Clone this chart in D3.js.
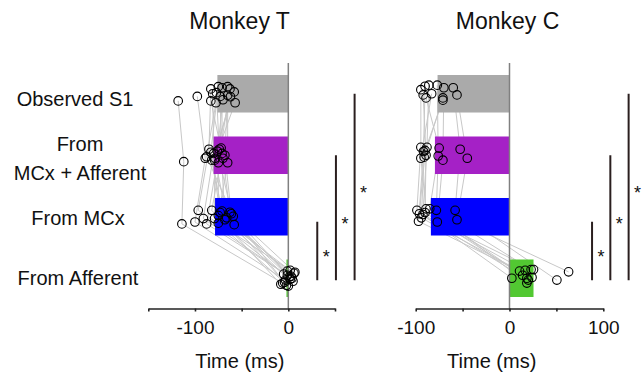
<!DOCTYPE html>
<html>
<head>
<meta charset="utf-8">
<script src="https://cdn.jsdelivr.net/npm/d3@7/dist/d3.min.js"></script>
<style>
  body { margin: 0; background: #fff; }
  svg { display: block; }
  text { font-family: "Liberation Sans", Arial, sans-serif; fill: #111; }
</style>
</head>
<body>
<svg id="chart" width="642" height="373"></svg>
<script>
// Conditions, top to bottom
const conditions = ["Observed S1", "From MCx + Afferent", "From MCx", "From Afferent"];
const rowLabels = [["Observed S1"], ["From", "MCx + Afferent"], ["From MCx"], ["From Afferent"]];
const barColors = ["#aaaaaa", "#a521c6", "#0000ff", "#52c832"];

// Monkey T: mean latency per condition (ms)
const tMeans = [-76, -80, -78.5, -2];
// Monkey T: per-neuron latencies (ms), same neuron at the same index
const tObserved = [-118, -97.5, -83, -81, -77, -71, -65, -62.5, -58, -57, -83, -77.5, -70, -65, -73, -62, -75];
const tBoth     = [-112, -89, -85, -80, -74, -71, -65, -75, -82, -78.5, -70, -87.5, -76, -68, -72, -79, -83];
const tMCx      = [-114, -100, -96.5, -91, -87.5, -82, -75, -75, -71, -66, -62.5, -59, -58, -61, -68, -79, -73];
const tAff      = [-6, -3, 2, -1, 4, -8, 6, 0, 3, -4, 7, -2, 1, 5, -5, 2, -1];
// vertical scatter of each dot inside its row, as a fraction of the bar height
const tJitObs  = [0.19, 0.07, -0.13, 0, -0.03, -0.16, -0.19, -0.13, -0.05, 0.24, 0.19, 0.24, 0.16, 0.04, 0.07, 0.08, -0.19];
const tJitBoth = [0.17, 0.08, -0.16, -0.05, -0.16, -0.05, 0.2, 0.2, 0.13, 0.08, 0.08, 0.04, -0.11, 0, -0.19, 0.13, -0.08];
const tJitMCx  = [0.19, 0.14, -0.17, 0.05, 0.19, -0.17, -0.03, 0.17, -0.15, 0.03, -0.12, -0.01, 0.21, -0.08, 0.08, 0.05, -0.11];
const tJitAff  = [0.13, 0.05, -0.21, -0.08, 0, 0.16, -0.13, 0.21, -0.05, 0.11, -0.16, 0.19, -0.03, 0.08, -0.11, 0.03, -0.19];

// Monkey C
const cMeans = [-76.7, -79.5, -83.8, 25.6];
const cObserved = [-94.5, -90, -86, -83, -89, -77, -70, -71, -71, -60, -56, -92];
const cBoth     = [-94.5, -91.7, -88, -94.5, -75, -76, -71, -91, -90, -52.6, -45, -89];
const cMCx      = [-98.7, -97, -92.3, -89, -85, -78, -77, -94, -96, -58, -56, -90];
const cAff      = [2.5, 10.7, 16.7, 18.5, 18.5, 23, 25.6, 24, 20, 50.5, 63, 14];
const cJitObs  = [-0.11, -0.2, -0.23, 0, 0.11, -0.23, -0.16, 0.11, 0.17, -0.16, 0.03, 0.03];
const cJitBoth = [-0.21, -0.1, -0.21, 0.08, -0.19, 0.02, 0.13, 0.05, -0.13, -0.16, 0.08, 0];
const cJitMCx  = [-0.17, 0.12, -0.06, -0.21, -0.21, -0.17, 0.14, 0.03, -0.08, -0.17, 0.08, -0.11];
const cJitAff  = [0, -0.19, -0.21, 0, 0.13, -0.23, -0.23, -0.02, 0.05, 0.05, -0.17, -0.08];

// Axis ticks
const tTicks = [-150, -100, -50, 0, 50];
const cTicks = [-100, -50, 0, 50, 100];
// Significance: each listed condition vs "From Afferent"
const sigPairs = ["From MCx", "From MCx + Afferent", "Observed S1"];

const panels = [
  { title: "Monkey T", domain: [-150, 50], range: [148.3, 335], ticks: tTicks,
    means: tMeans, values: [tObserved, tBoth, tMCx, tAff], jitter: [tJitObs, tJitBoth, tJitMCx, tJitAff],
    labelAt: -52, sigAt: [31, 51, 71] },
  { title: "Monkey C", domain: [-100, 100], range: [415.7, 603.3], ticks: cTicks,
    means: cMeans, values: [cObserved, cBoth, cMCx, cAff], jitter: [cJitObs, cJitBoth, cJitMCx, cJitAff],
    labelAt: -19, sigAt: [88, 107.5, 127] }
];

const svg = d3.select("#chart");
const axisY = 308.5;

const y = d3.scaleBand().domain(conditions).range([75, 297]).paddingInner(0.39).paddingOuter(0);
const bw = y.bandwidth();
const yc = c => y(c) + bw / 2;

// Row labels on the left
const labelNudge = { "Observed S1": 5, "From MCx + Afferent": 3, "From MCx": 1, "From Afferent": 0 };
const labelX = { "Observed S1": 75, "From MCx + Afferent": 80, "From MCx": 78, "From Afferent": 78 };
conditions.forEach((c, i) => {
  const lines = rowLabels[i];
  const t = svg.append("text")
    .attr("text-anchor", "middle")
    .attr("font-size", 20);
  lines.forEach((ln, k) => {
    t.append("tspan")
      .attr("x", labelX[c])
      .attr("y", yc(c) + labelNudge[c] + (k - (lines.length - 1) / 2) * 28.5)
      .attr("dy", "0.36em")
      .text(ln);
  });
});

panels.forEach(p => {
  const x = d3.scaleLinear().domain(p.domain).range(p.range);
  const g = svg.append("g");
  const n = p.values[0].length;
  const pts = d3.range(n).map(i => conditions.map((c, k) => ({
    x: x(p.values[k][i]),
    y: yc(c) + p.jitter[k][i] * bw
  })));

  // neuron traces across conditions
  const line = d3.line().x(d => d.x).y(d => d.y);
  g.append("g").selectAll("path").data(pts).join("path")
    .attr("d", line)
    .attr("fill", "none")
    .attr("stroke", "#c8c8c8")
    .attr("stroke-width", 1);

  // mean bars
  g.append("g").selectAll("rect").data(conditions).join("rect")
    .attr("x", (c, k) => Math.min(x(p.means[k]), x(0)))
    .attr("width", (c, k) => Math.abs(x(p.means[k]) - x(0)))
    .attr("y", c => y(c))
    .attr("height", bw)
    .attr("fill", (c, k) => barColors[k]);

  // zero line
  g.append("line")
    .attr("x1", x(0)).attr("x2", x(0))
    .attr("y1", 63).attr("y2", axisY)
    .attr("stroke", "#808080")
    .attr("stroke-width", 1.5);

  // individual neurons
  g.append("g").selectAll("circle").data(pts.flat()).join("circle")
    .attr("cx", d => d.x)
    .attr("cy", d => d.y)
    .attr("r", 4.3)
    .attr("fill", "none")
    .attr("stroke", "#000")
    .attr("stroke-width", 1.1);

  // x axis
  const axis = d3.axisBottom(x)
    .tickValues(p.ticks)
    .tickSize(3)
    .tickSizeOuter(0)
    .tickPadding(9)
    .tickFormat(d => (d % 100 === 0 ? (d < 0 ? "-" + Math.abs(d) : String(d)) : ""));
  const ax = g.append("g").attr("transform", `translate(0,${axisY})`).call(axis);
  ax.select(".domain").attr("stroke", "#222").attr("stroke-width", 1.6);
  ax.selectAll(".tick line").attr("stroke", "#222").attr("stroke-width", 1.6);
  ax.selectAll(".tick text")
    .attr("font-size", 19)
    .attr("font-family", '"Liberation Sans", Arial, sans-serif')
    .attr("fill", "#111");

  // axis title
  g.append("text")
    .attr("x", x(p.labelAt))
    .attr("y", 361)
    .attr("dy", "0.36em")
    .attr("text-anchor", "middle")
    .attr("font-size", 20)
    .text("Time (ms)");

  // panel title
  g.append("text")
    .attr("x", (p.range[0] + p.range[1]) / 2 - 2)
    .attr("y", 21)
    .attr("dy", "0.36em")
    .attr("text-anchor", "middle")
    .attr("font-size", 23)
    .text(p.title);

  // significance bars
  const yEnd = yc("From Afferent") + 2;
  sigPairs.forEach((c, k) => {
    const top = yc(c) + (c === "From MCx" ? 5 : 0);
    const sx = x(p.sigAt[k]);
    g.append("line")
      .attr("x1", sx).attr("x2", sx)
      .attr("y1", top).attr("y2", yEnd)
      .attr("stroke", "#2a1f1f")
      .attr("stroke-width", 2);
    g.append("text")
      .attr("x", sx + 9)
      .attr("y", (top + yEnd) / 2 + 12)
      .attr("text-anchor", "middle")
      .attr("font-size", 18)
      .text("*");
  });
});
</script>
</body>
</html>
